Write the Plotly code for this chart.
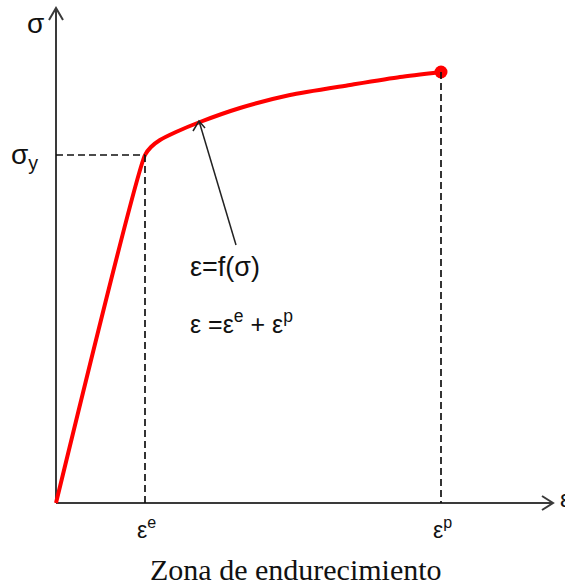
import plotly.graph_objects as go

# Stress-strain curve (arbitrary units, origin at the axes' corner)
strain = [0, 89, 95, 104, 120, 144, 184, 234, 294, 344, 385]
stress = [0, 348, 356, 363, 371, 381, 395, 408, 418, 426, 431]
eps_e = 89        # elastic strain at yield
sigma_y = 348     # yield stress
eps_p = 385       # strain at the end point
sigma_end = 431

x_max, y_max = 497, 495   # axis arrow tips

axis_color = "#3a3a3a"
fig = go.Figure()

# axes
fig.add_trace(go.Scatter(x=[0, x_max], y=[0, 0], mode="lines",
                         line=dict(color=axis_color, width=2), hoverinfo="skip"))
fig.add_trace(go.Scatter(x=[0, 0], y=[0, y_max], mode="lines",
                         line=dict(color=axis_color, width=2), hoverinfo="skip"))
# chevron arrow heads
fig.add_trace(go.Scatter(x=[x_max - 11, x_max, x_max - 11], y=[7, 0, -7], mode="lines",
                         line=dict(color=axis_color, width=2), hoverinfo="skip"))
fig.add_trace(go.Scatter(x=[-7, 0, 7], y=[y_max - 12, y_max, y_max - 12], mode="lines",
                         line=dict(color=axis_color, width=2), hoverinfo="skip"))

# guide lines
dash = dict(color="#111111", width=1.7, dash="7px,4px")
fig.add_shape(type="line", x0=0, y0=sigma_y, x1=eps_e, y1=sigma_y, line=dash)
fig.add_shape(type="line", x0=eps_e, y0=sigma_y, x1=eps_e, y1=0, line=dash)
fig.add_shape(type="line", x0=eps_p, y0=sigma_end, x1=eps_p, y1=0, line=dash)

# curve
fig.add_trace(go.Scatter(x=strain, y=stress, mode="lines",
                         line=dict(color="red", width=4, shape="spline", smoothing=0.6),
                         hoverinfo="skip"))
fig.add_trace(go.Scatter(x=[eps_p], y=[sigma_end], mode="markers",
                         marker=dict(color="red", size=13), hoverinfo="skip"))

# pointer arrow to the curve
tip = (143, 382)
tail = (180, 258)
fig.add_trace(go.Scatter(x=[tail[0], tip[0]], y=[tail[1], tip[1]], mode="lines",
                         line=dict(color="#222222", width=1.5), hoverinfo="skip"))
fig.add_trace(go.Scatter(x=[tip[0] - 6, tip[0], tip[0] + 6], y=[tip[1] - 10, tip[1], tip[1] - 7],
                         mode="lines", line=dict(color="#222222", width=1.5), hoverinfo="skip"))

sans = "Liberation Sans, Arial, sans-serif"
serif = "Liberation Serif, Times New Roman, serif"
txt = "#111111"

def label(x, y, text, size, xanchor="center", family=sans):
    fig.add_annotation(x=x, y=y, text=text, showarrow=False, xanchor=xanchor,
                       yanchor="middle", font=dict(family=family, size=size, color=txt))

label(-21, 480, "σ", 28)
label(-32, 347, "σ<sub>y</sub>", 28)
label(502, 5, "ε", 24, xanchor="left")
label(eps_e + 1, -25, "ε<sup>e</sup>", 23)
label(eps_p + 1, -25, "ε<sup>p</sup>", 23)
label(132, 236, "ε=f(σ)", 27, xanchor="left")
label(132, 181, "ε =ε<sup>e</sup> + ε<sup>p</sup>", 25, xanchor="left")
label(240, -66, "Zona de endurecimiento", 30, family=serif)

fig.update_layout(
    width=565, height=585, margin=dict(l=0, r=0, t=0, b=0),
    plot_bgcolor="white", paper_bgcolor="white", showlegend=False,
    xaxis=dict(range=[-56, 509], visible=False, fixedrange=True),
    yaxis=dict(range=[-82, 503], visible=False, fixedrange=True),
)

fig.write_html("out.html")
